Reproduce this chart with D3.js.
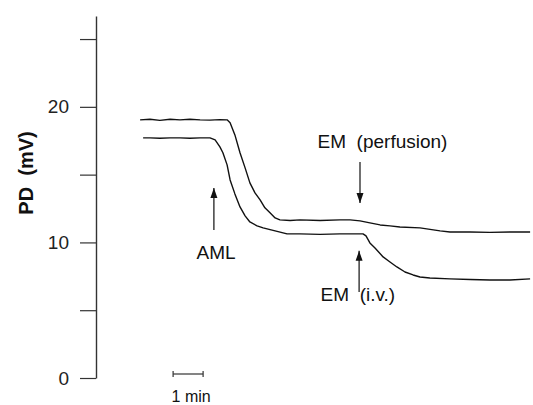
<!DOCTYPE html>
<html>
<head>
<meta charset="utf-8">
<script src="https://cdn.jsdelivr.net/npm/d3@7"></script>
<style>
  body { margin: 0; background: #fff; }
  svg { display: block; font-family: "Liberation Sans", Arial, Helvetica, sans-serif; }
  svg text { white-space: pre; }
</style>
</head>
<body>
<div id="chart"></div>
<script>
// time in minutes, PD in mV
const upperTime = [1.47, 1.80, 2.13, 2.47, 2.80, 3.13, 3.47, 3.80, 4.13, 4.37, 4.47, 4.63, 4.80, 4.97, 5.13, 5.30, 5.47, 5.63, 5.80, 5.97, 6.13, 6.47, 6.80, 7.47, 8.13, 8.47, 8.80, 9.13, 9.47, 9.80, 10.13, 10.80, 11.47, 11.80, 12.47, 13.13, 13.80, 14.47];
const upperPD   = [19.04, 19.08, 19.00, 19.08, 19.04, 19.08, 19.04, 19.02, 19.06, 19.04, 18.82, 17.93, 16.61, 15.50, 14.39, 13.65, 13.14, 12.55, 12.18, 11.81, 11.66, 11.62, 11.66, 11.62, 11.66, 11.66, 11.59, 11.44, 11.29, 11.22, 11.14, 11.07, 10.85, 10.77, 10.77, 10.74, 10.77, 10.77];

const lowerTime = [1.57, 1.80, 2.13, 2.47, 2.80, 3.13, 3.47, 3.80, 3.97, 4.13, 4.23, 4.37, 4.47, 4.63, 4.80, 4.97, 5.13, 5.37, 5.57, 5.97, 6.37, 6.80, 7.47, 8.13, 8.63, 8.90, 9.00, 9.13, 9.30, 9.57, 9.80, 10.03, 10.30, 10.57, 10.80, 11.13, 11.80, 12.47, 13.13, 13.80, 14.47];
const lowerPD   = [17.71, 17.71, 17.68, 17.71, 17.71, 17.68, 17.71, 17.71, 17.56, 17.05, 16.61, 15.72, 14.61, 13.58, 12.62, 11.96, 11.51, 11.22, 11.07, 10.85, 10.63, 10.63, 10.59, 10.63, 10.63, 10.63, 10.48, 9.96, 9.59, 8.93, 8.56, 8.19, 7.82, 7.60, 7.45, 7.38, 7.31, 7.27, 7.23, 7.23, 7.31];

const yTicks = [0, 5, 10, 15, 20, 25];
const yTickLabels = ["0", "", "10", "", "20", ""];

// arrows: time, from PD, to PD
const arrowTime = [3.93, 8.80, 8.77];
const arrowFrom = [10.92, 15.94, 6.35];
const arrowTo   = [14.02, 12.90, 9.38];

const width = 533, height = 405;
const svg = d3.select("#chart").append("svg")
  .attr("width", width)
  .attr("height", height);

const x = d3.scaleLinear().domain([0, 14.5]).range([96, 531]);
const y = d3.scaleLinear().domain([0, 26.7]).range([378, 16]);

svg.append("defs").append("marker")
  .attr("id", "head")
  .attr("viewBox", "0 0 10 10")
  .attr("refX", 10).attr("refY", 5)
  .attr("markerWidth", 10).attr("markerHeight", 10)
  .attr("markerUnits", "userSpaceOnUse")
  .attr("orient", "auto")
  .append("path")
    .attr("d", "M0,1.5 L10,5 L0,8.5 Z")
    .attr("fill", "#111");

// y axis
const yAxis = svg.append("g")
  .attr("transform", "translate(" + x(0) + ",0)")
  .call(d3.axisLeft(y)
    .tickValues(yTicks)
    .tickFormat((d, i) => yTickLabels[i])
    .tickSize(16)
    .tickSizeOuter(0)
    .tickPadding(11));
yAxis.select(".domain").attr("stroke", "#333").attr("stroke-width", 1.4);
yAxis.selectAll(".tick line").attr("stroke", "#333").attr("stroke-width", 1.2);
yAxis.selectAll(".tick text")
  .attr("font-size", 19)
  .attr("fill", "#222")
  .attr("font-family", "Liberation Sans, Arial, sans-serif");

svg.append("text")
  .attr("transform", "translate(33,173) rotate(-90)")
  .attr("text-anchor", "middle")
  .attr("font-size", 20)
  .attr("font-weight", "bold")
  .attr("fill", "#111")
  .text("PD  (mV)");

// traces
const line = d3.line().x(d => x(d[0])).y(d => y(d[1]));
const traces = [d3.zip(upperTime, upperPD), d3.zip(lowerTime, lowerPD)];
svg.selectAll("path.trace")
  .data(traces)
  .enter().append("path")
  .attr("class", "trace")
  .attr("d", line)
  .attr("fill", "none")
  .attr("stroke", "#111")
  .attr("stroke-width", 1.4)
  .attr("stroke-linejoin", "round");

// arrows
svg.selectAll("line.arrow")
  .data(arrowTime)
  .enter().append("line")
  .attr("class", "arrow")
  .attr("x1", d => x(d)).attr("x2", d => x(d))
  .attr("y1", (d, i) => y(arrowFrom[i]))
  .attr("y2", (d, i) => y(arrowTo[i]))
  .attr("stroke", "#111")
  .attr("stroke-width", 1.2)
  .attr("marker-end", "url(#head)");

// labels
const labels = [
  { t: 4.0, v: 8.8, s: "AML" },
  { t: 9.55, v: 17.0, s: "EM  (perfusion)" },
  { t: 8.73, v: 5.7, s: "EM  (i.v.)" }
];
svg.selectAll("text.note")
  .data(labels)
  .enter().append("text")
  .attr("class", "note")
  .attr("x", d => x(d.t))
  .attr("y", d => y(d.v))
  .attr("text-anchor", "middle")
  .attr("font-size", 19)
  .attr("fill", "#111")
  .text(d => d.s);

// time scale bar
const barStart = 2.57, barLen = 1;
const bar = svg.append("g").attr("stroke", "#333").attr("stroke-width", 1.2);
bar.append("line")
  .attr("x1", x(barStart)).attr("x2", x(barStart + barLen))
  .attr("y1", 374).attr("y2", 374);
bar.selectAll("line.end")
  .data([barStart, barStart + barLen])
  .enter().append("line")
  .attr("class", "end")
  .attr("x1", d => x(d)).attr("x2", d => x(d))
  .attr("y1", 371).attr("y2", 377);
svg.append("text")
  .attr("x", x(barStart + barLen / 2) + 3)
  .attr("y", 402)
  .attr("text-anchor", "middle")
  .attr("font-size", 16)
  .attr("fill", "#111")
  .text("1 min");
</script>
</body>
</html>
